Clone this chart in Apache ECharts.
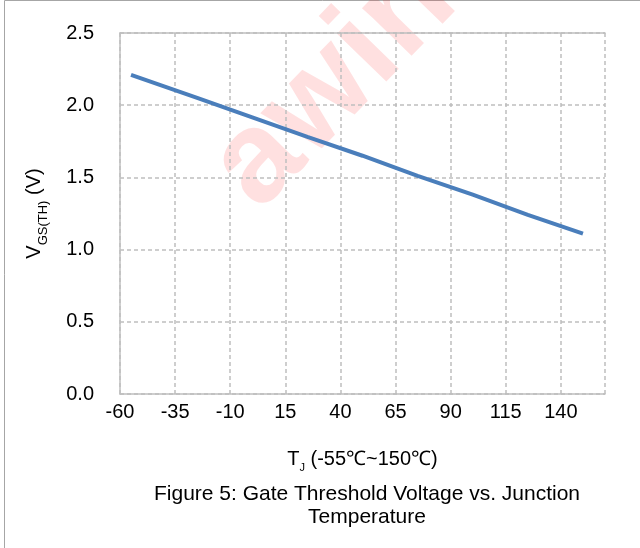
<!DOCTYPE html>
<html>
<head>
<meta charset="utf-8">
<script src="https://cdn.jsdelivr.net/npm/echarts@6/dist/echarts.min.js"></script>
<style>
  html, body { margin: 0; padding: 0; background: #fff; }
  #main { width: 640px; height: 548px; }
</style>
</head>
<body>
<div id="main"></div>
<script>
  // junction temperature (°C) and gate threshold voltage (V)
  var tempC = [-55, -25, 0, 25, 50, 75, 100, 125, 150];
  var vgsTh = [2.21, 2.05, 1.915, 1.78, 1.65, 1.51, 1.38, 1.24, 1.11];
  var xTicks = [-60, 160, 25];   // min, max, step
  var yTicks = [0, 2.5, 0.5];
  var caption = 'Figure 5: Gate Threshold Voltage vs. Junction\nTemperature';

  var font = '"Liberation Sans", Arial, sans-serif';
  var gridColor = '#bfbfbf';

  var chart = echarts.init(document.getElementById('main'));

  var pts = tempC.map(function (t, i) { return [t, vgsTh[i]]; });

  var option = {
    animation: false,
    textStyle: { fontFamily: font },
    title: {
      text: caption,
      left: 362,
      textAlign: 'center',
      top: 478,
      textStyle: { fontFamily: font, fontSize: 21, fontWeight: 'normal', color: '#000', lineHeight: 23 }
    },
    grid: { left: 120, right: 35, top: 33, bottom: 154 },
    graphic: [
      // outer frame
      { type: 'rect', shape: { x: 4.5, y: 0.5, width: 700, height: 700 },
        style: { fill: 'none', stroke: '#a6a6a6', lineWidth: 1 }, z: 0 },
      // watermark
      { type: 'text', x: 372, y: 45, rotation: 0.8,
        style: { text: 'awinic', fill: 'rgba(255,0,0,0.12)', font: 'bold 130px ' + font,
                 align: 'center', verticalAlign: 'middle' }, z: 0 }
    ],
    xAxis: [{
      type: 'value',
      min: xTicks[0], max: xTicks[1], interval: xTicks[2],
      axisLine: { show: true, onZero: false, lineStyle: { color: gridColor, width: 1.5 } },
      axisTick: { show: false },
      axisLabel: { showMaxLabel: false, margin: 8, fontSize: 20, color: '#000', fontFamily: font },
      splitLine: { show: true, lineStyle: { color: gridColor, type: [4, 3], width: 1.5 } },
      name: '{t|T}{s|J}{t| (-55℃~150℃)}',
      nameLocation: 'middle',
      nameGap: 51,
      nameTextStyle: {
        rich: {
          t: { fontSize: 20, color: '#000', fontFamily: font, lineHeight: 24 },
          s: { fontSize: 11, color: '#000', fontFamily: font, lineHeight: 28, verticalAlign: 'bottom' }
        }
      }
    }, {
      // top frame line of the plot area
      type: 'value', position: 'top',
      min: xTicks[0], max: xTicks[1], interval: xTicks[2],
      axisLine: { show: true, onZero: false, lineStyle: { color: gridColor, width: 1.5 } },
      axisTick: { show: false }, axisLabel: { show: false }, splitLine: { show: false }
    }],
    yAxis: {
      type: 'value',
      min: yTicks[0], max: yTicks[1], interval: yTicks[2],
      axisLine: { show: true, onZero: false, lineStyle: { color: gridColor, width: 1.5 } },
      axisTick: { show: false },
      axisLabel: { margin: 26, fontSize: 20, color: '#000', fontFamily: font,
        formatter: function (v) { return v.toFixed(1); } },
      splitLine: { show: true, lineStyle: { color: gridColor, type: [4, 3], width: 1.5 } },
      name: '{t|V}{s|GS(TH)}{t| (V)}',
      nameLocation: 'middle',
      nameGap: 70,
      nameTextStyle: {
        rich: {
          t: { fontSize: 20, color: '#000', fontFamily: font, lineHeight: 24 },
          s: { fontSize: 13, color: '#000', fontFamily: font, lineHeight: 32, verticalAlign: 'bottom' }
        }
      }
    },
    series: [{
      type: 'line',
      data: pts,
      showSymbol: false,
      lineStyle: { color: '#4a7ebb', width: 4 },
      z: 5
    }]
  };

  chart.setOption(option);
</script>
</body>
</html>
